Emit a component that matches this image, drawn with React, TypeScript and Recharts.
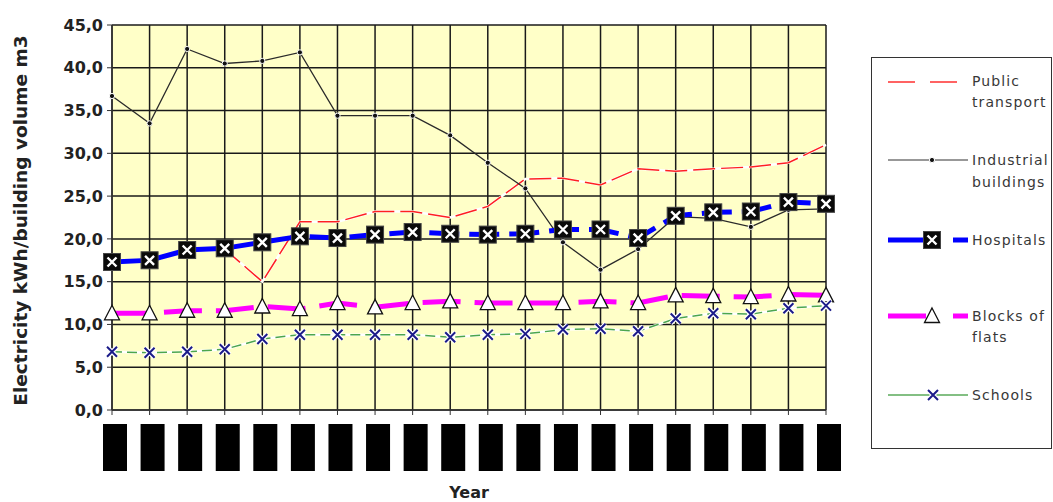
import { LineChart, Line, XAxis, YAxis, CartesianGrid } from "recharts";

// year labels are blacked out in the source, so these are placeholders
const years = [
  "1980", "1981", "1982", "1983", "1984", "1985", "1986", "1987", "1988", "1989",
  "1990", "1991", "1992", "1993", "1994", "1995", "1996", "1997", "1998", "1999",
];
const publicTransport = [17.3, 17.6, 18.6, 18.8, 15.0, 22.0, 22.0, 23.2, 23.2, 22.5, 23.8, 27.0, 27.1, 26.3, 28.2, 27.9, 28.2, 28.4, 28.9, 31.0];
const industrialBuildings = [36.7, 33.5, 42.2, 40.5, 40.8, 41.8, 34.4, 34.4, 34.4, 32.1, 28.9, 25.9, 19.6, 16.4, 18.8, 22.6, 22.4, 21.4, 23.4, 23.5];
const hospitals = [17.3, 17.5, 18.7, 18.9, 19.6, 20.3, 20.1, 20.5, 20.8, 20.6, 20.5, 20.6, 21.1, 21.1, 20.1, 22.7, 23.1, 23.2, 24.3, 24.1];
const blocksOfFlats = [11.3, 11.3, 11.6, 11.6, 12.1, 11.8, 12.5, 12.0, 12.5, 12.7, 12.5, 12.5, 12.5, 12.7, 12.5, 13.4, 13.3, 13.2, 13.5, 13.4];
const schools = [6.8, 6.7, 6.8, 7.1, 8.3, 8.8, 8.8, 8.8, 8.8, 8.5, 8.8, 8.9, 9.4, 9.5, 9.2, 10.7, 11.3, 11.2, 11.9, 12.2];
const yTicks = [0, 5, 10, 15, 20, 25, 30, 35, 40, 45];

const data = years.map((year, i) => ({
  year,
  publicTransport: publicTransport[i],
  industrialBuildings: industrialBuildings[i],
  hospitals: hospitals[i],
  blocksOfFlats: blocksOfFlats[i],
  schools: schools[i],
}));

const FONT = "'DejaVu Sans', Verdana, sans-serif";
const fmt = (v: number) => v.toFixed(1).replace(".", ",");

const DotMark = ({ cx, cy }: any) => (
  <circle cx={cx} cy={cy} r={2.6} fill="#111" stroke="#fff" strokeWidth={1} />
);

const BoxMark = ({ cx, cy }: any) => (
  <g>
    <rect x={cx - 8.5} y={cy - 8.5} width={17} height={17} fill="#0a0a0a" stroke="#444" strokeWidth={1} />
    <path
      d={`M${cx - 4.5},${cy - 4.5}L${cx + 4.5},${cy + 4.5}M${cx + 4.5},${cy - 4.5}L${cx - 4.5},${cy + 4.5}`}
      stroke="#fff"
      strokeWidth={2.4}
    />
  </g>
);

const TriMark = ({ cx, cy }: any) => (
  <polygon
    points={`${cx},${cy - 8} ${cx + 7.5},${cy + 6.5} ${cx - 7.5},${cy + 6.5}`}
    fill="#fff"
    stroke="#111"
    strokeWidth={1.3}
  />
);

const CrossMark = ({ cx, cy }: any) => {
  const d = `M${cx - 5},${cy - 5}L${cx + 5},${cy + 5}M${cx + 5},${cy - 5}L${cx - 5},${cy + 5}`;
  return (
    <g>
      <path d={d} stroke="#fff" strokeWidth={4.5} />
      <path d={d} stroke="#1c1c8a" strokeWidth={2} />
    </g>
  );
};

// blacked-out year label
const YearTick = ({ x, y }: any) => <rect x={x - 9} y={y + 7} width={24} height={47} fill="#000" />;

const Legend = () => {
  const sx = 17;
  const ex = 97;
  const tx = 101;
  const text = { fontFamily: FONT, fontSize: 14, fill: "#383838", letterSpacing: 1.1 };
  return (
    <svg width={182} height={393} style={{ position: "absolute", left: 871, top: 57 }}>
      <rect x={0.5} y={0.5} width={180} height={391} fill="#fff" stroke="#333" strokeWidth={1} />

      <line x1={sx} y1={25} x2={ex} y2={25} stroke="#ff3030" strokeWidth={1.5} strokeDasharray="27 15" />
      <text x={tx} y={29} {...text}>Public</text>
      <text x={tx} y={50} {...text}>transport</text>

      <line x1={sx} y1={103} x2={ex} y2={103} stroke="#333" strokeWidth={1.2} />
      <DotMark cx={61} cy={103} />
      <text x={tx} y={108} {...text}>Industrial</text>
      <text x={tx} y={130} {...text}>buildings</text>

      <line x1={sx} y1={183} x2={55} y2={183} stroke="#0000ff" strokeWidth={5} />
      <line x1={82} y1={183} x2={ex} y2={183} stroke="#0000ff" strokeWidth={5} />
      <BoxMark cx={61} cy={183} />
      <text x={tx} y={188} {...text}>Hospitals</text>

      <line x1={sx} y1={259} x2={55} y2={259} stroke="#ff00ff" strokeWidth={5} />
      <line x1={82} y1={259} x2={ex} y2={259} stroke="#ff00ff" strokeWidth={5} />
      <TriMark cx={61} cy={259} />
      <text x={tx} y={264} {...text}>Blocks of</text>
      <text x={tx} y={285} {...text}>flats</text>

      <line x1={sx} y1={338} x2={ex} y2={338} stroke="#5aaa5a" strokeWidth={1.6} />
      <CrossMark cx={62} cy={338} />
      <text x={tx} y={343} {...text}>Schools</text>
    </svg>
  );
};

export default function App() {
  return (
    <div style={{ position: "relative", width: 1053, height: 502, background: "#fff" }}>
      <style>{"body{margin:0}"}</style>
      <LineChart width={1053} height={502} data={data} margin={{ top: 25, right: 227, bottom: 0, left: 0 }}>
        <CartesianGrid stroke="#1a1a1a" strokeWidth={1.5} fill="#ffffc8" fillOpacity={1} />
        <XAxis
          dataKey="year"
          height={92}
          interval={0}
          tickSize={5}
          tick={<YearTick />}
          axisLine={{ stroke: "#333", strokeWidth: 1.5 }}
          tickLine={{ stroke: "#333" }}
          label={{
            content: ({ viewBox }: any) => (
              <text
                x={viewBox.x + viewBox.width / 2}
                y={viewBox.y + 88}
                textAnchor="middle"
                fontFamily={FONT}
                fontWeight="bold"
                fontSize={16}
                fill="#222"
              >
                Year
              </text>
            ),
          }}
        />
        <YAxis
          width={112}
          domain={[0, 45]}
          ticks={yTicks}
          interval={0}
          tickSize={5}
          tickMargin={4}
          tickFormatter={fmt}
          tick={{ fontFamily: FONT, fontWeight: "bold", fontSize: 16, fill: "#222" }}
          axisLine={{ stroke: "#333", strokeWidth: 1.5 }}
          tickLine={{ stroke: "#333" }}
          label={{
            content: ({ viewBox }: any) => {
              const x = viewBox.x + 22;
              const y = viewBox.y + viewBox.height / 2 + 3;
              return (
                <text
                  x={x}
                  y={y}
                  transform={`rotate(-90 ${x} ${y})`}
                  textAnchor="middle"
                  dominantBaseline="middle"
                  fontFamily={FONT}
                  fontWeight="bold"
                  fontSize={18.5}
                  fill="#222"
                >
                  Electricity kWh/building volume m3
                </text>
              );
            },
          }}
        />

        <Line dataKey="publicTransport" stroke="#fff" strokeWidth={2.5} dot={false} activeDot={false} isAnimationActive={false} />
        <Line
          dataKey="publicTransport"
          stroke="#ff2020"
          strokeWidth={1.5}
          strokeDasharray="22 6"
          dot={false}
          activeDot={false}
          isAnimationActive={false}
        />
        <Line
          dataKey="industrialBuildings"
          stroke="#2a2a2a"
          strokeWidth={1.3}
          dot={(p: any) => <DotMark key={p.index} {...p} />}
          activeDot={false}
          isAnimationActive={false}
        />
        <Line
          dataKey="hospitals"
          stroke="#0000ff"
          strokeWidth={5}
          strokeDasharray="30 10"
          dot={(p: any) => <BoxMark key={p.index} {...p} />}
          activeDot={false}
          isAnimationActive={false}
        />
        <Line
          dataKey="blocksOfFlats"
          stroke="#ff00ff"
          strokeWidth={5}
          strokeDasharray="38 14"
          dot={(p: any) => <TriMark key={p.index} {...p} />}
          activeDot={false}
          isAnimationActive={false}
        />
        <Line dataKey="schools" stroke="#fff" strokeWidth={2.5} dot={false} activeDot={false} isAnimationActive={false} />
        <Line
          dataKey="schools"
          stroke="#4ca64c"
          strokeWidth={1.5}
          strokeDasharray="10 5"
          dot={(p: any) => <CrossMark key={p.index} {...p} />}
          activeDot={false}
          isAnimationActive={false}
        />
      </LineChart>
      <Legend />
    </div>
  );
}
